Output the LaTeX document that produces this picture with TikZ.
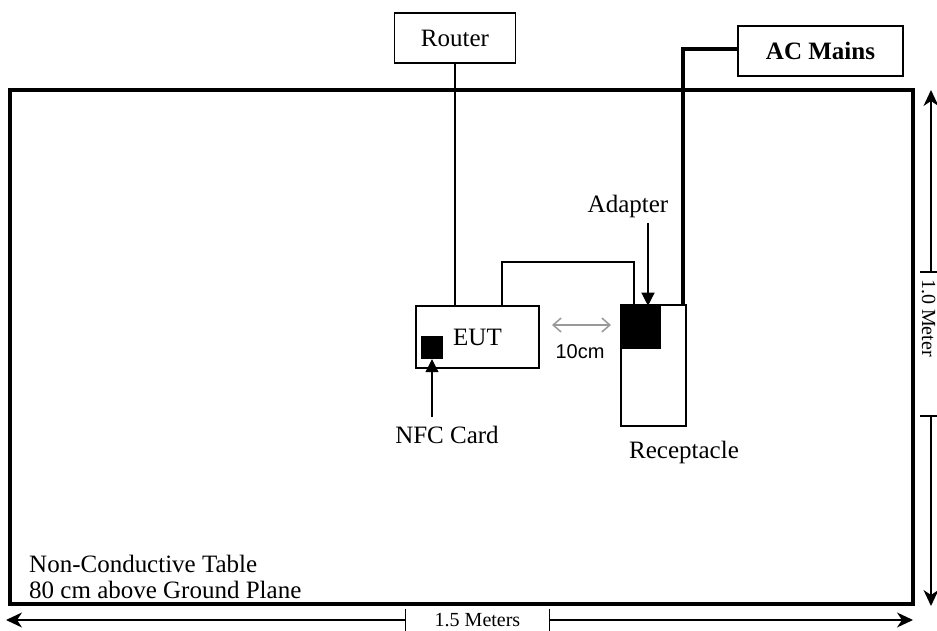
\documentclass[tikz,border=0pt]{standalone}
\usepackage{fontspec}
\setmainfont{Liberation Serif}
\newfontfamily\arialfont{Liberation Sans}
\usetikzlibrary{arrows.meta,calc}
\begin{document}
\begin{tikzpicture}[x=1pt,y=-1pt,
  box/.style={draw, line width=1.6pt, inner sep=0pt, font=\fontsize{25}{30}\selectfont},
  blk/.style={fill=black, draw=none, inner sep=0pt},
  lbl/.style={font=\fontsize{25}{30}\selectfont, inner sep=0pt},
  dimlbl/.style={font=\fontsize{20}{24}\selectfont, inner sep=0pt},
  dimarrow/.style={line width=1.3pt, -{Stealth[length=16pt,width=15pt,inset=5pt]}},
  ptr/.style={line width=1.4pt, -{Triangle[length=13pt,width=13pt]}},
  wire/.style={line width=1.6pt},
  tick/.style={line width=1.3pt},
  grayarrow/.style={line width=1.5pt, draw=black!40, {Straight Barb[length=8pt,width=14pt]}-{Straight Barb[length=8pt,width=14pt]}}
]
\useasboundingbox (0,0) rectangle (937,631);

% table
\node[draw, line width=3.2pt, minimum width=903pt, minimum height=514pt, inner sep=0pt] (table) at (461.5,347) {};

% boxes
\node[box, minimum width=121pt, minimum height=50pt] (router) at (455,38) {Router};
\node[box, minimum width=165pt, minimum height=50pt, font=\bfseries\fontsize{25}{30}\selectfont] (ac) at (820.5,51) {AC Mains};
\node[box, minimum width=123pt, minimum height=62pt] (eut) at (477.5,337) {EUT};
\node[box, minimum width=65pt, minimum height=121pt] (rec) at (653.5,365.5) {};
\node[blk, minimum width=39pt, minimum height=43pt, anchor=north west] (adapter) at ([xshift=1.5pt,yshift=-1.5pt]rec.north west) {};
\node[blk, minimum width=22pt, minimum height=23pt] (nfc) at (432,347.5) {};

% labels
\node[lbl, anchor=base] (nfclbl) at (447,443) {NFC Card};
\node[lbl, anchor=base] (reclbl) at (684,458) {Receptacle};
\node[lbl, anchor=base] (adlbl) at (628,213) {Adapter};
\node[font=\arialfont\fontsize{20}{24}\selectfont, inner sep=0pt, anchor=base] (cm) at (580,358) {10cm};
\node[lbl, anchor=base west] (tbl1) at (29,572) {Non-Conductive Table};
\node[lbl, anchor=base west] (tbl2) at (29,598) {80 cm above Ground Plane};

% connectors
\draw[line width=1.3pt] (router.south) -- (router.south |- eut.north);
\draw[wire] ([xshift=24.5pt]eut.north) -- ++(0,-43) -| ([xshift=-7.5pt]adapter.north);
\draw[line width=3.5pt] ([yshift=2pt]ac.west) -| ([xshift=-4pt]rec.north east);
\coordinate (adtail) at (648,223);
\draw[ptr] (adtail) -- (adtail |- adapter.north);
\coordinate (nfctail) at (432,417);
\draw[ptr] (nfctail) -- (nfc.south);
\coordinate (g1) at (552,325);
\coordinate (g2) at (611,325);
\draw[grayarrow] (g1) -- (g2);

% horizontal dimension
\node[dimlbl, minimum width=143pt, minimum height=22pt] (dimh) at (477.5,620) {1.5 Meters};
\coordinate (hl) at (6,620);
\coordinate (hr) at (913,620);
\draw[dimarrow] (dimh.west) -- (hl);
\draw[dimarrow] (dimh.east) -- (hr);
\draw[tick] (dimh.north west) -- (dimh.south west);
\draw[tick] (dimh.north east) -- (dimh.south east);

% vertical dimension
\coordinate (vt) at (931,90);
\coordinate (vb) at (931,606);
\coordinate (t1) at (931,272);
\coordinate (t2) at (931,416);
\draw[dimarrow] (t1) -- (vt);
\draw[dimarrow] (t2) -- (vb);
\draw[tick] ([xshift=-11pt]t1) -- ([xshift=6pt]t1);
\draw[tick] ([xshift=-11pt]t2) -- ([xshift=6pt]t2);
\node[dimlbl, rotate=-90, anchor=base] (dimvl) at (922,318) {1.0 Meter};
\end{tikzpicture}
\end{document}
